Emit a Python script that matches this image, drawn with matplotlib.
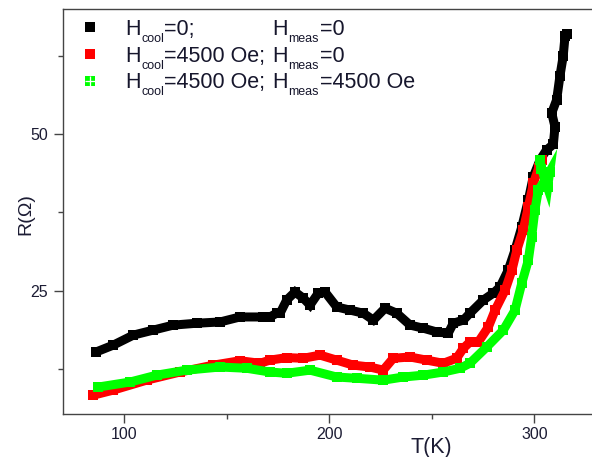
import matplotlib
matplotlib.use('Agg')
import matplotlib.pyplot as plt
from matplotlib.ticker import MultipleLocator
from matplotlib.lines import Line2D

plt.rcParams['font.family'] = ['Liberation Sans', 'DejaVu Sans']

# ---- data ----
black_T = [86.2, 94.6, 104.4, 114.1, 123.9, 135.3, 146.7, 156.4, 167.8, 171.0, 174.3, 176.0,
           179.2, 183.3, 187.3, 190.6, 194.6, 197.9, 203.6, 210.1, 216.6, 221.5, 227.2, 232.9,
           239.4, 245.9, 252.4, 258.0, 260.5, 265.4, 268.6, 275.1, 280.0, 283.3, 287.3, 290.6,
           293.9, 297.1, 299.5, 302.8, 306.0, 309.3, 310.1, 308.5, 310.9, 312.5, 314.1, 315.0, 315.8]
black_R = [15.2, 16.3, 17.9, 18.7, 19.5, 19.8, 20.0, 20.8, 20.8, 20.8, 21.4, 21.4,
           23.5, 24.8, 23.8, 22.7, 24.6, 24.8, 22.4, 21.9, 21.4, 20.3, 22.2, 21.4,
           19.5, 19.0, 18.4, 18.2, 19.8, 20.3, 21.4, 23.5, 24.6, 25.6, 28.3, 31.5,
           35.2, 39.5, 43.2, 45.9, 47.5, 48.4, 51.2, 53.4, 55.5, 59.3, 62.5, 65.7, 66.0]

red_T = [84.9, 94.5, 110.9, 127.2, 143.4, 156.4, 166.2, 171.0, 179.2, 187.3, 195.5, 203.6,
         211.7, 219.8, 226.3, 231.2, 239.4, 247.5, 255.6, 262.1, 265.4, 268.6, 272.7, 277.6,
         280.9, 285.8, 289.1, 291.5, 294.6, 297.1, 299.6, 302.1, 303.7]
red_R = [8.3, 9.1, 10.7, 12.0, 13.1, 13.8, 13.4, 13.9, 14.3, 14.2, 14.7, 13.9,
         13.1, 12.8, 12.3, 14.2, 14.4, 13.9, 13.4, 14.2, 15.8, 16.8, 16.8, 19.2,
         21.9, 25.1, 28.3, 31.5, 34.7, 38.4, 42.2, 44.6, 45.9]

green_T = [87.3, 102.8, 115.8, 130.4, 146.7, 159.7, 171.0, 179.2, 190.6, 203.6, 213.4, 226.3,
           236.1, 245.9, 255.6, 263.8, 268.6, 276.8, 284.9, 290.6, 293.9, 297.1, 298.7, 300.3,
           302.0, 305.3, 307.5, 306.5, 303.5, 302.8]
green_R = [9.6, 10.4, 11.5, 12.3, 12.8, 12.6, 12.0, 11.8, 12.3, 11.2, 11.0, 10.7,
           11.2, 11.5, 12.0, 12.6, 13.4, 16.0, 18.7, 21.9, 26.2, 29.9, 33.6, 37.9,
           41.1, 42.7, 44.0, 41.5, 44.5, 45.9]

cool_values = ['=0;', '=4500 Oe;', '=4500 Oe;']
meas_values = ['=0', '=0', '=4500 Oe']
colors = ['#000000', '#ff0000', '#00ff00']

W, H = 592, 457
fig = plt.figure(figsize=(W / 100, H / 100), dpi=100)
ax = fig.add_axes([63.3 / W, 43 / H, (W - 63.3) / W, 404.7 / H])

for T, R, c in [(black_T, black_R, colors[0]), (red_T, red_R, colors[1]), (green_T, green_R, colors[2])]:
    ax.plot(T, R, color=c, lw=6.5, marker='s', ms=6.5, mew=0,
            solid_joinstyle='miter', solid_capstyle='butt')

ax.set_xlim(70.24, 328.15)
ax.set_ylim(5.29, 69.98)
ax.xaxis.set_major_locator(MultipleLocator(100))
ax.xaxis.set_minor_locator(MultipleLocator(50))
ax.yaxis.set_major_locator(MultipleLocator(25))
ax.yaxis.set_minor_locator(MultipleLocator(12.5))

tick_col = '#1c1c34'
ax.tick_params(which='major', direction='out', length=6.2, width=1.0, color='#444444',
               labelsize=11.5, labelcolor=tick_col)
ax.tick_params(axis='x', which='major', pad=3.5)
ax.tick_params(axis='y', which='major', pad=5)
ax.tick_params(which='minor', direction='out', length=3.5, width=1.0, color='#444444')
for s in ['left', 'bottom', 'top']:
    ax.spines[s].set_color('#444444')
    ax.spines[s].set_linewidth(1.0)
ax.spines['right'].set_visible(False)

fig.text(431.7 / W, 1 - 447 / H, 'T(K)', ha='center', va='center', fontsize=15.5, color=tick_col)
fig.text(26 / W, 1 - 214 / H, 'R(Ω)', ha='center', va='center', rotation=90,
         fontsize=14, color=tick_col)

# legend (drawn by hand to reproduce the low, small subscripts)
rows_y = [27, 54, 81]
base_y = [35, 62, 88]
leg_col = '#16162c'


def put(x, y, s, size):
    fig.text(x / W, 1 - y / H, s, ha='left', va='baseline', fontsize=size, color=leg_col)


for i in range(3):
    fig.add_artist(Line2D([90 / W], [1 - rows_y[i] / H], marker='s', ms=7.2, mew=0,
                          color=colors[i], transform=fig.transFigure))
    if i == 2:
        fig.add_artist(Line2D([90 / W], [1 - rows_y[i] / H], marker='+', ms=6.5, mew=0.9,
                              color='white', transform=fig.transFigure))
    b = base_y[i]
    put(125, b, 'H', 15.5)
    put(141, b + 7, 'cool', 9)
    put(164, b, cool_values[i], 15.5)
    put(272, b, 'H', 15.5)
    put(288, b + 7, 'meas', 9)
    put(320, b, meas_values[i], 15.5)

fig.savefig('out.png', dpi=100)
